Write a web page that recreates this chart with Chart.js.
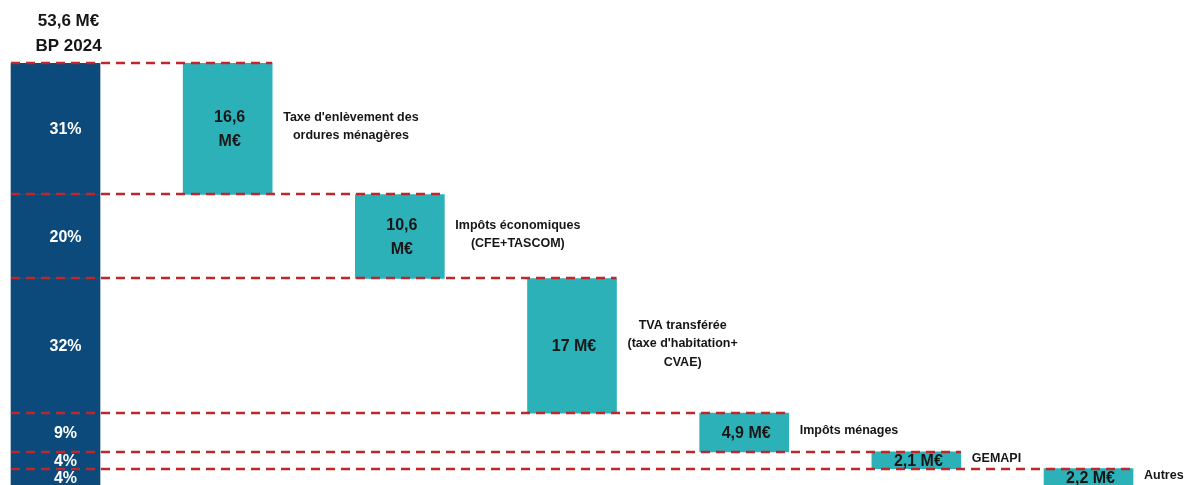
<!DOCTYPE html>
<html><head><meta charset="utf-8">
<script src="https://cdn.jsdelivr.net/npm/chart.js@4/dist/chart.umd.min.js"></script>
<style>
html,body{margin:0;padding:0;background:#fff;overflow:hidden;}
#wrap{position:relative;width:1187px;height:490px;}
</style></head><body>
<div id="wrap"><canvas id="c" width="1187" height="490"></canvas></div>
<script>
const categories = ['BP 2024', "Taxe d'enlèvement des ordures ménagères", 'Impôts économiques (CFE+TASCOM)', "TVA transférée (taxe d'habitation+ CVAE)", 'Impôts ménages', 'GEMAPI', 'Autres'];
const headerLabels = ['53,6 M€', 'BP 2024'];
const contributions = [16.6, 10.6, 17, 4.9, 2.1, 2.2];
const shares = ['31%', '20%', '32%', '9%', '4%', '4%'];
const valueLabels = [['16,6', 'M€'], ['10,6', 'M€'], ['17 M€'], ['4,9 M€'], ['2,1 M€'], ['2,2 M€']];
const sideLabels = [["Taxe d'enlèvement des", 'ordures ménagères'], ['Impôts économiques', '(CFE+TASCOM)'], ['TVA transférée', "(taxe d'habitation+", 'CVAE)'], ['Impôts ménages'], ['GEMAPI'], ['Autres']];

const total = contributions.reduce((a, b) => a + b, 0);
const tops = [], bottoms = [];
let run = total;
contributions.forEach(v => { tops.push(run); run -= v; bottoms.push(Math.max(0, run)); });
const segData = contributions.map((v, i) => ({ x: 0, y: [bottoms[i], tops[i]] }));
const stepData = contributions.map((v, i) => ({ x: i + 1, y: [bottoms[i], tops[i]] }));

const DARK = '#0b4a7b', TEAL = '#2db1b9', RED = '#c0272d', TXT = '#161616';

const overlay = {
  id: 'overlay',
  afterDatasetsDraw(chart) {
    const ctx = chart.ctx;
    const ys = chart.scales.y;
    const m0 = chart.getDatasetMeta(0), m1 = chart.getDatasetMeta(1);
    const bw = m0.data[0].width;
    const darkC = m0.data[0].x, darkL = darkC - bw / 2;
    ctx.save();
    ctx.setLineDash([9, 6]);
    ctx.lineWidth = 2.5;
    ctx.strokeStyle = RED;
    tops.forEach((t, k) => {
      const y = Math.round(ys.getPixelForValue(t));
      const r = m1.data[k].x + m1.data[k].width / 2;
      ctx.beginPath();
      ctx.moveTo(darkL, y);
      ctx.lineTo(r, y);
      ctx.stroke();
    });
    ctx.setLineDash([]);
    ctx.textBaseline = 'middle';
    ctx.fillStyle = TXT;
    ctx.textAlign = 'center';
    ctx.font = 'bold 17px "Liberation Sans", Arial, sans-serif';
    ctx.fillText(headerLabels[0], darkC + 13, 21);
    ctx.fillText(headerLabels[1], darkC + 13, 46);
    ctx.fillStyle = '#ffffff';
    ctx.font = 'bold 16px "Liberation Sans", Arial, sans-serif';
    shares.forEach((s, i) => {
      const yc = (ys.getPixelForValue(tops[i]) + ys.getPixelForValue(bottoms[i])) / 2;
      ctx.fillText(s, darkC + 10, yc + 1);
    });
    ctx.fillStyle = TXT;
    ctx.font = 'bold 16px "Liberation Sans", Arial, sans-serif';
    valueLabels.forEach((lines, i) => {
      const b = m1.data[i];
      const yc = (ys.getPixelForValue(tops[i]) + ys.getPixelForValue(bottoms[i])) / 2;
      const lh = 24;
      lines.forEach((ln, j) => {
        ctx.fillText(ln, b.x + 2, yc + 1 + (j - (lines.length - 1) / 2) * lh);
      });
    });
    ctx.font = 'bold 12.5px "Liberation Sans", Arial, sans-serif';
    sideLabels.forEach((lines, i) => {
      const b = m1.data[i];
      const left = b.x + b.width / 2 + 11;
      const w = Math.max(...lines.map(l => ctx.measureText(l).width));
      const yc = (ys.getPixelForValue(tops[i]) + ys.getPixelForValue(bottoms[i])) / 2;
      const lh = 18.5;
      lines.forEach((ln, j) => {
        ctx.fillText(ln, left + w / 2, yc - 2 + (j - (lines.length - 1) / 2) * lh);
      });
    });
    ctx.restore();
  }
};

new Chart(document.getElementById('c'), {
  type: 'bar',
  data: {
    labels: categories,
    datasets: [
      { label: 'Répartition BP 2024', data: segData, backgroundColor: DARK, borderWidth: 0, grouped: false, barThickness: 89 },
      { label: 'Montant', data: stepData, backgroundColor: TEAL, borderWidth: 0, grouped: false, barThickness: 89 }
    ]
  },
  options: {
    responsive: false,
    animation: false,
    devicePixelRatio: 1,
    layout: { padding: { top: 63, bottom: 4, left: 0, right: 0 } },
    scales: {
      x: { type: 'linear', offset: false, min: -0.3224, max: 6.572, display: false },
      y: { min: 0, max: total, display: false }
    },
    plugins: { legend: { display: false }, tooltip: { enabled: false } }
  },
  plugins: [overlay]
});
</script>
</body></html>
